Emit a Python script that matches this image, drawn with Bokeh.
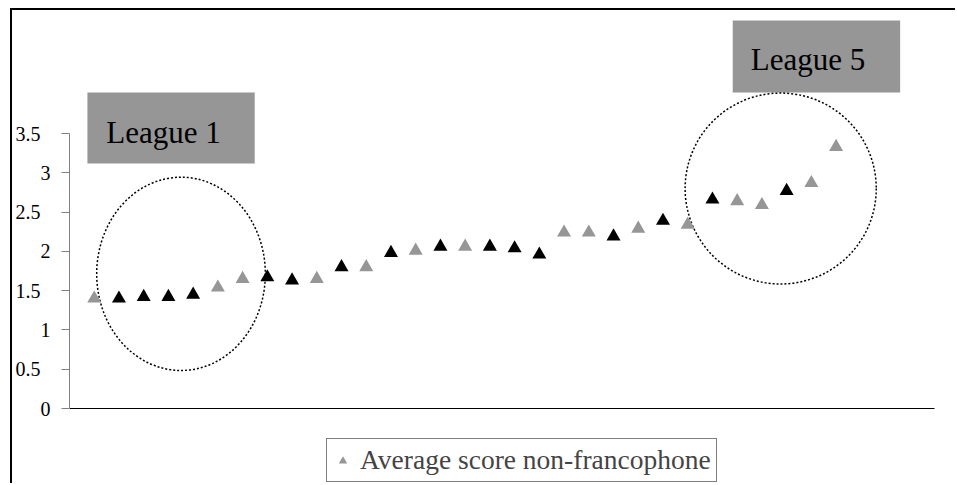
from bokeh.plotting import figure
from bokeh.models import Range1d, FixedTicker, Legend, LegendItem, Label
from bokeh.embed import file_html
from bokeh.resources import INLINE

# ---- data ----
rank = list(range(1, 32))
scores = [1.40, 1.40, 1.42, 1.42, 1.45, 1.54, 1.65, 1.67, 1.63, 1.65,
          1.80, 1.80, 1.98, 2.01, 2.06, 2.06, 2.06, 2.04, 1.96, 2.24,
          2.24, 2.19, 2.29, 2.39, 2.34, 2.66, 2.64, 2.59, 2.77, 2.87, 3.33]
highlighted = [0, 1, 1, 1, 1, 0, 0, 1, 1, 0,
               1, 0, 1, 0, 1, 0, 1, 1, 1, 0,
               0, 1, 0, 1, 0, 1, 0, 0, 1, 0, 0]
series_label = "Average score non-francophone"
y_ticks = [0, 0.5, 1, 1.5, 2, 2.5, 3, 3.5]
y_tick_labels = ["0", "0.5", "1", "1.5", "2", "2.5", "3", "3.5"]
league_labels = ["League 1", "League 5"]

GRAY = "#969696"
FONT = "Liberation Serif"

p = figure(width=945, height=475, output_backend="svg", toolbar_location=None,
           x_range=Range1d(0, 35.91), y_range=Range1d(-0.980, 5.066),
           min_border_left=54, min_border_right=0, min_border_top=0, min_border_bottom=0)
p.styles = {"border-left": "2px solid black", "border-top": "2px solid black",
            "margin-left": "10px", "margin-top": "8px"}
p.outline_line_color = None
p.xgrid.visible = False
p.ygrid.visible = False
p.background_fill_color = "white"
p.border_fill_color = "white"

# y axis
p.yaxis.ticker = FixedTicker(ticks=y_ticks)
p.yaxis.bounds = (0, 3.5)
p.yaxis.major_label_overrides = {
    t: (lab if float(t).is_integer() else lab + "\u00a0\u00a0") for t, lab in zip(y_ticks, y_tick_labels)
}
p.yaxis.axis_line_color = "#808080"
p.yaxis.major_tick_line_color = "#808080"
p.yaxis.major_tick_out = 8
p.yaxis.major_tick_in = 0
p.yaxis.minor_tick_line_color = None
p.yaxis.major_label_standoff = 11
p.yaxis.major_label_text_font = FONT
p.yaxis.major_label_text_font_size = "20px"
p.yaxis.major_label_text_color = "black"

# x axis (line only), crossing at y = 0
p.xaxis.fixed_location = 0
p.xaxis.ticker = FixedTicker(ticks=[])
p.xaxis.bounds = (0, 35)
p.xaxis.axis_line_color = "black"
p.xaxis.major_tick_line_color = None
p.xaxis.minor_tick_line_color = None
p.xaxis.major_label_text_font_size = "0px"

# league boxes
p.quad(left=[0.725, 26.82], right=[7.49, 33.59], bottom=[3.118, 4.022], top=[4.022, 4.938],
       fill_color=GRAY, line_color=None)
p.add_layout(Label(x=1.49, y=3.517, text=league_labels[0], text_font=FONT,
                   text_font_size="31px", text_baseline="alphabetic", text_color="black"))
p.add_layout(Label(x=27.55, y=4.438, text=league_labels[1], text_font=FONT,
                   text_font_size="31px", text_baseline="alphabetic", text_color="black"))

# dotted circles
p.ellipse(x=[4.51, 28.76], y=[1.714, 2.80], width=[6.82, 7.73], height=[2.46, 2.43],
          fill_color=None, line_color="black", line_width=1.5, line_dash="2 2")

# points
gx = [r for r, h in zip(rank, highlighted) if not h]
gy = [s for s, h in zip(scores, highlighted) if not h]
bx = [r for r, h in zip(rank, highlighted) if h]
by = [s for s, h in zip(scores, highlighted) if h]
gray_r = p.scatter(x=gx, y=gy, marker="triangle", size=14, fill_color=GRAY, line_color=None)
p.scatter(x=bx, y=by, marker="triangle", size=14, fill_color="black", line_color=None)

legend = Legend(items=[LegendItem(label=series_label, renderers=[gray_r])],
                location=(257, 3), label_text_font=FONT, label_text_font_size="27.5px",
                glyph_width=21, glyph_height=21, label_standoff=7, padding=5,
                border_line_color="black", border_line_width=1, background_fill_color="white",
                background_fill_alpha=1, spacing=0, margin=0)
p.add_layout(legend)

open("out.html", "w").write(file_html(p, INLINE))
